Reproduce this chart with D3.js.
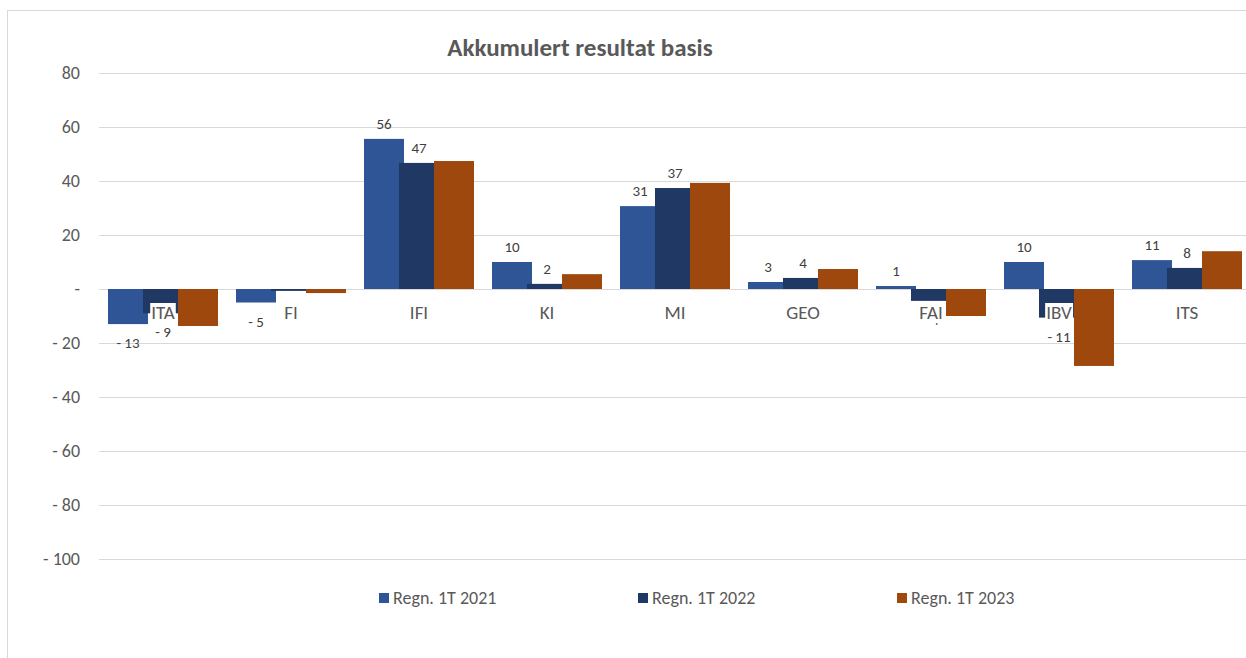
<!DOCTYPE html>
<html>
<head>
<meta charset="utf-8">
<script src="https://cdnjs.cloudflare.com/ajax/libs/d3/7.8.5/d3.min.js"></script>
<style>
  body { margin: 0; background: #fff; }
  text { font-family: Carlito, Calibri, "Noto Sans", sans-serif; }
</style>
</head>
<body>
<svg id="chart" width="1246" height="658"></svg>
<script>
// chart data
var categories = ["ITA", "FI", "IFI", "KI", "MI", "GEO", "FAI", "IBV", "ITS"];
var seriesNames = ["Regn. 1T 2021", "Regn. 1T 2022", "Regn. 1T 2023"];
var regn2021 = [-13, -5, 55.6, 10, 30.7, 2.6, 1.1, 10, 10.7];
var regn2022 = [-9, -0.7, 46.7, 1.9, 37.4, 4.1, -4.4, -10.6, 7.8];
var regn2023 = [-13.7, -1.5, 47.4, 5.5, 39.3, 7.4, -10, -28.5, 14];
var yTicks = [80, 60, 40, 20, 0, -20, -40, -60, -80, -100];
var colors = ["#2f5597", "#203864", "#9e480e"];

var values = [regn2021, regn2022, regn2023];

var svg = d3.select("#chart");

// chart border
svg.append("rect")
    .attr("x", 7.5).attr("y", 10.5)
    .attr("width", 1250).attr("height", 660)
    .attr("fill", "none")
    .attr("stroke", "#d9d9d9");

var x = d3.scaleBand().domain(categories).range([99, 1251]);
var off = d3.scalePoint().domain(seriesNames).range([-35, 35]);
var barW = 40;
var y = d3.scaleLinear().domain([-100, 80]).range([559, 73]);

// title
svg.append("text")
    .attr("x", 580).attr("y", 56)
    .attr("text-anchor", "middle")
    .attr("font-size", 25)
    .attr("font-weight", "bold")
    .attr("fill", "#595959")
    .text("Akkumulert resultat basis");

// gridlines
svg.append("g").selectAll("line")
    .data(yTicks)
    .enter().append("line")
    .attr("x1", 99).attr("x2", 1251)
    .attr("y1", function (d) { return Math.round(y(d)) + 0.5; })
    .attr("y2", function (d) { return Math.round(y(d)) + 0.5; })
    .attr("stroke", "#d9d9d9")
    .attr("stroke-width", 1);

function fmt(v) {
    var r = Math.round(v);
    if (r === 0 && v === 0) return "-";
    return r < 0 ? "- " + (-r) : "" + r;
}

// y axis labels
svg.append("g").selectAll("text")
    .data(yTicks)
    .enter().append("text")
    .attr("x", 80)
    .attr("y", function (d) { return y(d) + 6; })
    .attr("text-anchor", "end")
    .attr("font-size", 18)
    .attr("fill", "#595959")
    .text(function (d) { return d === 0 ? "-" : fmt(d); });

function drawBars(si) {
    svg.append("g").selectAll("rect")
        .data(values[si])
        .enter().append("rect")
        .attr("x", function (d, i) { return x(categories[i]) + x.bandwidth() / 2 + off(seriesNames[si]) - barW / 2; })
        .attr("y", function (d) { return Math.min(y(d), y(0)); })
        .attr("width", barW)
        .attr("height", function (d) { return Math.abs(y(d) - y(0)); })
        .attr("fill", colors[si]);
}

function drawLabels(si) {
    svg.append("g").selectAll("text")
        .data(values[si])
        .enter().append("text")
        .attr("x", function (d, i) { return x(categories[i]) + x.bandwidth() / 2 + off(seriesNames[si]); })
        .attr("y", function (d) { return d >= 0 ? y(d) - 10 : y(d) + 24; })
        .attr("text-anchor", "middle")
        .attr("font-size", 15)
        .attr("fill", "#404040")
        .text(function (d) { return fmt(d); });
}

drawBars(0);
drawBars(1);
drawLabels(0);
drawLabels(1);

// category labels with white boxes (Excel style)
var cat = svg.append("g").selectAll("g")
    .data(categories)
    .enter().append("g");
cat.append("text")
    .attr("x", function (d) { return x(d) + x.bandwidth() / 2; })
    .attr("y", 319)
    .attr("text-anchor", "middle")
    .attr("font-size", 19)
    .attr("fill", "#595959")
    .text(function (d) { return d; });
cat.each(function () {
    var g = d3.select(this);
    var bb = g.select("text").node().getBBox();
    g.insert("rect", "text")
        .attr("x", bb.x - 1).attr("y", bb.y + 2)
        .attr("width", bb.width + 2).attr("height", bb.height - 3)
        .attr("fill", "#fff");
});

drawBars(2);

// legend
var legend = svg.append("g").selectAll("g")
    .data(seriesNames)
    .enter().append("g")
    .attr("transform", function (d, i) { return "translate(" + (379 + i * 259) + ",593)"; });
legend.append("rect")
    .attr("width", 10).attr("height", 10)
    .attr("fill", function (d, i) { return colors[i]; });
legend.append("text")
    .attr("x", 14).attr("y", 11)
    .attr("font-size", 18)
    .attr("fill", "#595959")
    .text(function (d) { return d; });
</script>
</body>
</html>
